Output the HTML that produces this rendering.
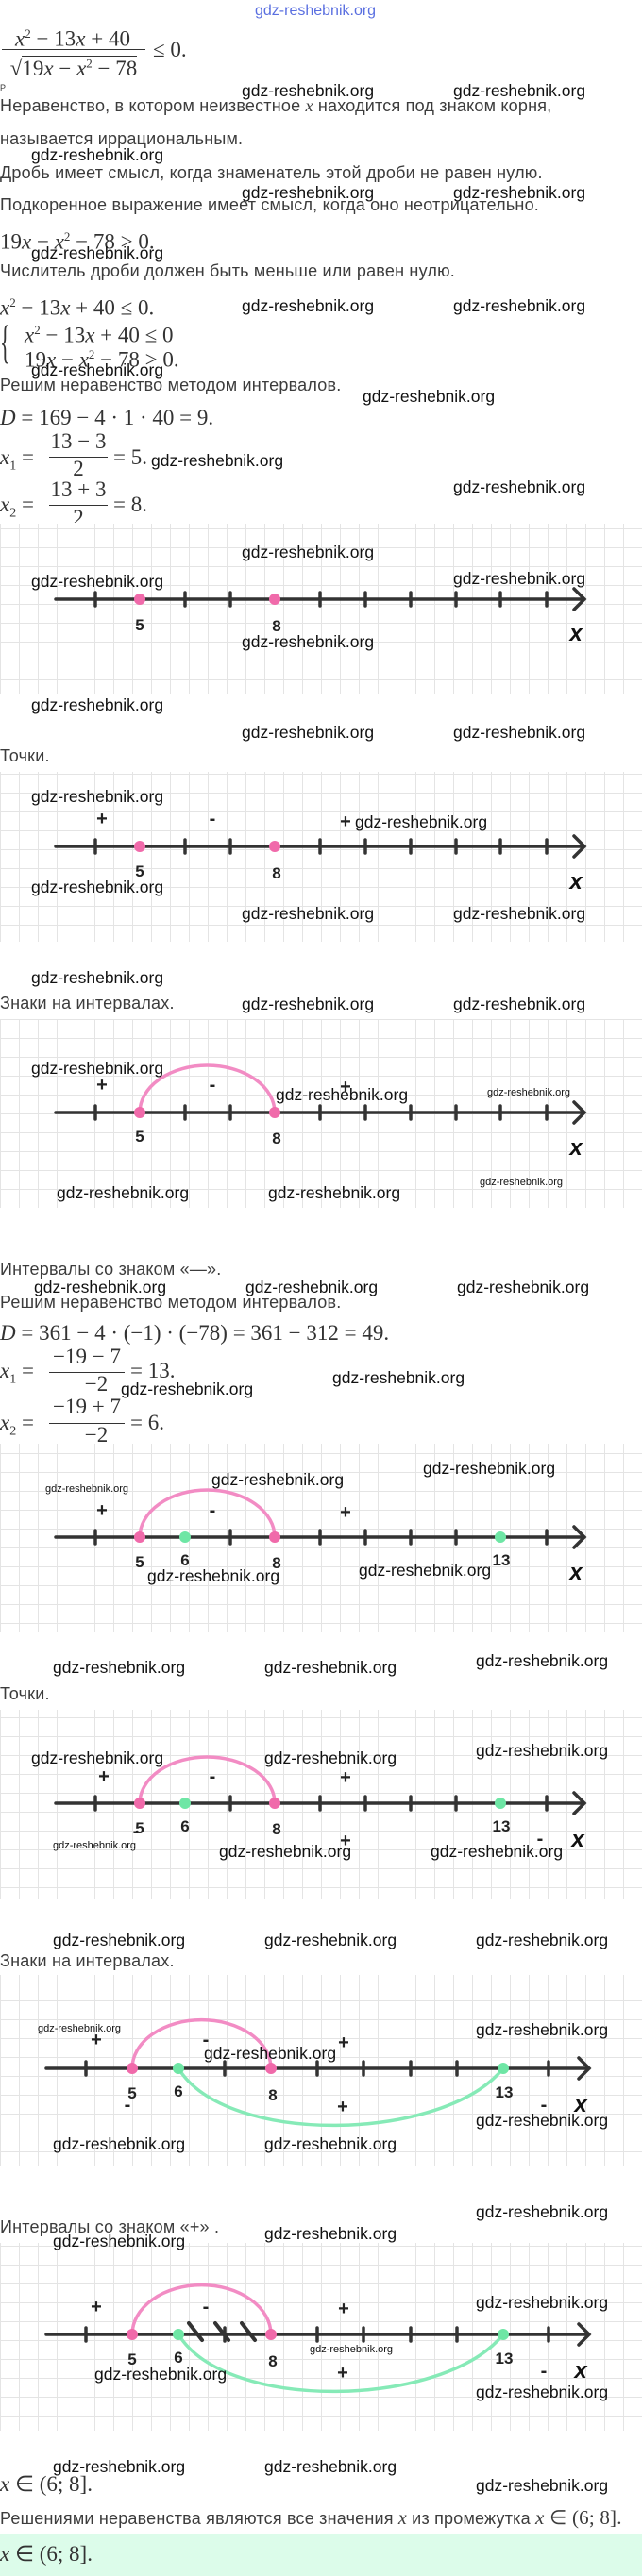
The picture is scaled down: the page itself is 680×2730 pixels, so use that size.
<!DOCTYPE html>
<html><head><meta charset="utf-8">
<style>
*{margin:0;padding:0;box-sizing:border-box}
body{width:680px;height:2730px;position:relative;background:#fff;overflow:hidden;font-family:"Liberation Sans",sans-serif}
.t{position:absolute;left:0;font-size:18px;color:#3c3c3c;white-space:nowrap;line-height:18px;letter-spacing:.2px}
.w{position:absolute;font-size:17.5px;color:#111;white-space:nowrap;line-height:20px;font-family:"Liberation Sans",sans-serif}
.ws{position:absolute;font-size:11px;color:#111;white-space:nowrap;line-height:12px}
.m{position:absolute;font-family:"Liberation Serif",serif;font-size:23px;color:#333;white-space:nowrap;line-height:22px}
.m i{font-style:italic}
.fr{position:absolute;font-family:"Liberation Serif",serif;font-size:23px;color:#333;text-align:center;line-height:22px;white-space:nowrap}
svg{position:absolute;left:0;top:0}
</style></head><body>
<svg width="680" height="2730" viewBox="0 0 680 2730">
<defs>
<pattern id="g" width="20" height="20" patternUnits="userSpaceOnUse"><path d="M0 0.5H20M0.5 0V20" stroke="#e4e4e4" stroke-width="1" fill="none"/></pattern>
</defs>
<rect x="0" y="2686" width="680" height="44" fill="#dcfcea"/>
<rect x="0" y="555" width="680" height="180" fill="url(#g)"/>
<rect x="0" y="818" width="680" height="180" fill="url(#g)"/>
<rect x="0" y="1080" width="680" height="200" fill="url(#g)"/>
<rect x="0" y="1530" width="680" height="200" fill="url(#g)"/>
<rect x="0" y="1812" width="680" height="200" fill="url(#g)"/>
<rect x="0" y="2093" width="680" height="203" fill="url(#g)"/>
<rect x="0" y="2377" width="680" height="199" fill="url(#g)"/>
<g stroke="#333" stroke-width="3.5" fill="none" stroke-linecap="round">
<path d="M59 635H619M608 624L619 635L608 646"/>
<path d="M101 628v14M196 628v14M244 628v14M339 628v14M387 628v14M435 628v14M483 628v14M530 628v14M579 628v14"/>
<path d="M59 897H619M608 886L619 897L608 908"/>
<path d="M101 890v14M196 890v14M244 890v14M339 890v14M387 890v14M435 890v14M483 890v14M530 890v14M579 890v14"/>
<path d="M59 1179H619M608 1168L619 1179L608 1190"/>
<path d="M101 1172v14M196 1172v14M244 1172v14M339 1172v14M387 1172v14M435 1172v14M483 1172v14M530 1172v14M579 1172v14"/>
<path d="M59 1629H619M608 1618L619 1629L608 1640"/>
<path d="M101 1622v14M244 1622v14M339 1622v14M387 1622v14M435 1622v14M483 1622v14M579 1622v14"/>
<path d="M59 1911H619M608 1900L619 1911L608 1922"/>
<path d="M101 1904v14M244 1904v14M339 1904v14M387 1904v14M435 1904v14M483 1904v14M579 1904v14"/>
<path d="M49 2192H624M613 2181L624 2192L613 2203"/>
<path d="M91 2185v14M238 2185v14M336 2185v14M385 2185v14M435 2185v14M484 2185v14M581 2185v14"/>
<path d="M49 2474H624M613 2463L624 2474L613 2485"/>
<path d="M91 2467v14M238 2467v14M336 2467v14M385 2467v14M435 2467v14M484 2467v14M581 2467v14"/>
<path d="M200 2462l14 18M228 2462l14 18M256 2462l14 18" stroke-width="4"/>
</g>
<g fill="none" stroke-width="3.5" stroke-linecap="round">
<path d="M148 1179A71.5 50 0 0 1 291 1179" stroke="#f28cc4"/>
<path d="M148 1629A71.5 50 0 0 1 291 1629" stroke="#f28cc4"/>
<path d="M148 1911A71.5 49 0 0 1 291 1911" stroke="#f28cc4"/>
<path d="M140 2192A73 51 0 0 1 287 2192" stroke="#f28cc4"/>
<path d="M140 2474A73 52 0 0 1 287 2474" stroke="#f28cc4"/>
<path d="M189 2192C240 2275 470 2270 533 2192" stroke="#86eab7"/>
<path d="M189 2474C240 2557 470 2552 533 2474" stroke="#86eab7"/>
</g>
<g fill="#f06aaa">
<circle cx="148" cy="635" r="6"/><circle cx="291" cy="635" r="6"/>
<circle cx="148" cy="897" r="6"/><circle cx="291" cy="897" r="6"/>
<circle cx="148" cy="1179" r="6"/><circle cx="291" cy="1179" r="6"/>
<circle cx="148" cy="1629" r="6"/><circle cx="291" cy="1629" r="6"/>
<circle cx="148" cy="1911" r="6"/><circle cx="291" cy="1911" r="6"/>
<circle cx="140" cy="2192" r="6"/><circle cx="287" cy="2192" r="6"/>
<circle cx="140" cy="2474" r="6"/><circle cx="287" cy="2474" r="6"/>
</g>
<g fill="#6ee6a5">
<circle cx="196" cy="1629" r="6"/><circle cx="530" cy="1629" r="6"/>
<circle cx="196" cy="1911" r="6"/><circle cx="530" cy="1911" r="6"/>
<circle cx="189" cy="2192" r="6"/><circle cx="533" cy="2192" r="6"/>
<circle cx="189" cy="2474" r="6"/><circle cx="533" cy="2474" r="6"/>
</g>
<g font-family="Liberation Sans,sans-serif" font-weight="bold" fill="#222" font-size="17" text-anchor="middle">
<text x="148" y="668">5</text><text x="293" y="669">8</text>
<text x="148" y="929">5</text><text x="293" y="931">8</text>
<text x="148" y="1210">5</text><text x="293" y="1212">8</text>
<text x="148" y="1661">5</text><text x="196" y="1659">6</text><text x="293" y="1662">8</text><text x="531" y="1659">13</text>
<text x="148" y="1943">5</text><text x="196" y="1941">6</text><text x="293" y="1944">8</text><text x="531" y="1941">13</text>
<text x="140" y="2224">5</text><text x="189" y="2222">6</text><text x="289" y="2226">8</text><text x="534" y="2223">13</text>
<text x="140" y="2506">5</text><text x="189" y="2504">6</text><text x="289" y="2508">8</text><text x="534" y="2505">13</text>
</g>
<g font-family="Liberation Sans,sans-serif" font-weight="bold" font-style="italic" fill="#111" font-size="24" text-anchor="middle">
<text x="610" y="679">x</text><text x="610" y="942">x</text><text x="610" y="1224">x</text>
<text x="610" y="1674">x</text><text x="612" y="1957">x</text><text x="615" y="2238">x</text><text x="615" y="2520">x</text>
</g>
<g font-family="Liberation Sans,sans-serif" font-weight="bold" fill="#222" font-size="20" text-anchor="middle">
<text x="108" y="874">+</text><text x="225" y="874">-</text><text x="366" y="877">+</text>
<text x="108" y="1156">+</text><text x="225" y="1156">-</text><text x="366" y="1158">+</text>
<text x="108" y="1607">+</text><text x="225" y="1607">-</text><text x="366" y="1609">+</text>
<text x="110" y="1889">+</text><text x="225" y="1889">-</text><text x="366" y="1890">+</text>
<text x="144" y="1947">-</text><text x="366" y="1957">+</text><text x="572" y="1955">-</text>
<text x="102" y="2168">+</text><text x="218" y="2168">-</text><text x="364" y="2171">+</text>
<text x="135" y="2237">-</text><text x="363" y="2239">+</text><text x="576" y="2237">-</text>
<text x="102" y="2451">+</text><text x="218" y="2451">-</text><text x="364" y="2453">+</text>
<text x="363" y="2521">+</text><text x="576" y="2519">-</text>
</g>
</svg>

<div class="w" style="left:270px;top:2px;color:#5a6fe0;font-size:16px">gdz-reshebnik.org</div>

<div class="fr" style="left:2px;top:25px;width:150px"><i>x</i><sup style="font-size:13px">2</sup> − 13<i>x</i> + 40</div>
<div style="position:absolute;left:2px;top:52px;width:152px;border-top:1.3px solid #333"></div>
<div class="fr" style="left:0px;top:56px;width:156px">√<span style="border-top:1.3px solid #333">19<i>x</i> − <i>x</i><sup style="font-size:13px">2</sup> − 78</span></div>
<div class="m" style="left:162px;top:42px">≤ 0.</div>
<div class="t" style="top:84px;font-size:9px">Р</div>

<div class="w" style="left:256px;top:86px">gdz-reshebnik.org</div><div class="w" style="left:480px;top:86px">gdz-reshebnik.org</div>
<div class="t" style="top:103px">Неравенство, в котором неизвестное <i style="font-family:'Liberation Serif',serif">x</i> находится под знаком корня,</div>
<div class="t" style="top:138px">называется иррациональным.</div>
<div class="w" style="left:33px;top:154px">gdz-reshebnik.org</div>
<div class="t" style="top:174px">Дробь имеет смысл, когда знаменатель этой дроби не равен нулю.</div>
<div class="w" style="left:256px;top:194px">gdz-reshebnik.org</div><div class="w" style="left:480px;top:194px">gdz-reshebnik.org</div>
<div class="t" style="top:208px">Подкоренное выражение имеет смысл, когда оно неотрицательно.</div>
<div class="m" style="left:0;top:240px">19<i>x</i> − <i>x</i><sup style="font-size:13px">2</sup> − 78 &gt; 0.</div>
<div class="w" style="left:33px;top:258px">gdz-reshebnik.org</div>
<div class="t" style="top:278px">Числитель дроби должен быть меньше или равен нулю.</div>
<div class="m" style="left:0;top:310px"><i>x</i><sup style="font-size:13px">2</sup> − 13<i>x</i> + 40 ≤ 0.</div>
<div class="w" style="left:256px;top:314px">gdz-reshebnik.org</div><div class="w" style="left:480px;top:314px">gdz-reshebnik.org</div>
<div class="m" style="left:0;top:335px;font-size:50px;line-height:54px;transform:scaleX(.45);transform-origin:left">{</div>
<div class="m" style="left:26px;top:339px"><i>x</i><sup style="font-size:13px">2</sup> − 13<i>x</i> + 40 ≤ 0</div>
<div class="m" style="left:26px;top:365px">19<i>x</i> − <i>x</i><sup style="font-size:13px">2</sup> − 78 &gt; 0.</div>
<div class="w" style="left:33px;top:382px">gdz-reshebnik.org</div>
<div class="t" style="top:399px">Решим неравенство методом интервалов.</div>
<div class="w" style="left:384px;top:410px">gdz-reshebnik.org</div>
<div class="m" style="left:0;top:432px"><i>D</i> = 169 − 4 · 1 · 40 = 9.</div>
<div class="m" style="left:0;top:474px"><i>x</i><sub style="font-size:14px">1</sub> =</div>
<div class="fr" style="left:52px;top:457px;width:62px">13 − 3</div>
<div style="position:absolute;left:52px;top:484px;width:62px;border-top:1.3px solid #333"></div>
<div class="fr" style="left:52px;top:486px;width:62px">2</div>
<div class="m" style="left:120px;top:474px">= 5.</div>
<div class="w" style="left:160px;top:478px">gdz-reshebnik.org</div>
<div class="w" style="left:480px;top:506px">gdz-reshebnik.org</div>
<div class="m" style="left:0;top:524px"><i>x</i><sub style="font-size:14px">2</sub> =</div>
<div class="fr" style="left:52px;top:508px;width:62px">13 + 3</div>
<div style="position:absolute;left:52px;top:535px;width:62px;border-top:1.3px solid #333"></div>
<div class="fr" style="left:52px;top:538px;width:62px;height:16px;overflow:hidden">2</div>
<div class="m" style="left:120px;top:524px">= 8.</div>

<div class="w" style="left:256px;top:575px">gdz-reshebnik.org</div>
<div class="w" style="left:33px;top:606px">gdz-reshebnik.org</div><div class="w" style="left:480px;top:603px">gdz-reshebnik.org</div>
<div class="w" style="left:256px;top:670px">gdz-reshebnik.org</div>
<div class="w" style="left:33px;top:737px">gdz-reshebnik.org</div>
<div class="w" style="left:256px;top:766px">gdz-reshebnik.org</div><div class="w" style="left:480px;top:766px">gdz-reshebnik.org</div>
<div class="t" style="top:792px">Точки.</div>
<div class="w" style="left:33px;top:834px">gdz-reshebnik.org</div>
<div class="w" style="left:376px;top:861px">gdz-reshebnik.org</div>
<div class="w" style="left:33px;top:930px">gdz-reshebnik.org</div>
<div class="w" style="left:256px;top:958px">gdz-reshebnik.org</div><div class="w" style="left:480px;top:958px">gdz-reshebnik.org</div>
<div class="w" style="left:33px;top:1026px">gdz-reshebnik.org</div>
<div class="t" style="top:1054px">Знаки на интервалах.</div>
<div class="w" style="left:256px;top:1054px">gdz-reshebnik.org</div><div class="w" style="left:480px;top:1054px">gdz-reshebnik.org</div>
<div class="w" style="left:33px;top:1122px">gdz-reshebnik.org</div>
<div class="w" style="left:292px;top:1150px">gdz-reshebnik.org</div>
<div class="ws" style="left:516px;top:1152px">gdz-reshebnik.org</div>
<div class="ws" style="left:508px;top:1247px">gdz-reshebnik.org</div>
<div class="w" style="left:60px;top:1254px">gdz-reshebnik.org</div><div class="w" style="left:284px;top:1254px">gdz-reshebnik.org</div>

<div class="t" style="top:1336px">Интервалы со знаком «—».</div>
<div class="w" style="left:36px;top:1354px">gdz-reshebnik.org</div><div class="w" style="left:260px;top:1354px">gdz-reshebnik.org</div><div class="w" style="left:484px;top:1354px">gdz-reshebnik.org</div>
<div class="t" style="top:1371px">Решим неравенство методом интервалов.</div>
<div class="m" style="left:0;top:1402px"><i>D</i> = 361 − 4 · (−1) · (−78) = 361 − 312 = 49.</div>
<div class="m" style="left:0;top:1442px"><i>x</i><sub style="font-size:14px">1</sub> =</div>
<div class="fr" style="left:52px;top:1427px;width:80px">−19 − 7</div>
<div style="position:absolute;left:52px;top:1454px;width:80px;border-top:1.3px solid #333"></div>
<div class="fr" style="left:62px;top:1456px;width:80px">−2</div>
<div class="m" style="left:138px;top:1442px">= 13.</div>
<div class="w" style="left:128px;top:1462px">gdz-reshebnik.org</div>
<div class="w" style="left:352px;top:1450px">gdz-reshebnik.org</div>
<div class="m" style="left:0;top:1497px"><i>x</i><sub style="font-size:14px">2</sub> =</div>
<div class="fr" style="left:52px;top:1480px;width:80px">−19 + 7</div>
<div style="position:absolute;left:52px;top:1508px;width:80px;border-top:1.3px solid #333"></div>
<div class="fr" style="left:62px;top:1510px;width:80px">−2</div>
<div class="m" style="left:138px;top:1497px">= 6.</div>

<div class="w" style="left:448px;top:1546px">gdz-reshebnik.org</div>
<div class="w" style="left:224px;top:1558px">gdz-reshebnik.org</div>
<div class="ws" style="left:48px;top:1572px">gdz-reshebnik.org</div>
<div class="w" style="left:156px;top:1660px">gdz-reshebnik.org</div>
<div class="w" style="left:380px;top:1654px">gdz-reshebnik.org</div>
<div class="w" style="left:56px;top:1757px">gdz-reshebnik.org</div><div class="w" style="left:280px;top:1757px">gdz-reshebnik.org</div><div class="w" style="left:504px;top:1750px">gdz-reshebnik.org</div>
<div class="t" style="top:1786px">Точки.</div>
<div class="w" style="left:33px;top:1853px">gdz-reshebnik.org</div><div class="w" style="left:280px;top:1853px">gdz-reshebnik.org</div><div class="w" style="left:504px;top:1845px">gdz-reshebnik.org</div>
<div class="ws" style="left:56px;top:1950px">gdz-reshebnik.org</div>
<div class="w" style="left:232px;top:1952px">gdz-reshebnik.org</div><div class="w" style="left:456px;top:1952px">gdz-reshebnik.org</div>

<div class="w" style="left:56px;top:2046px">gdz-reshebnik.org</div><div class="w" style="left:280px;top:2046px">gdz-reshebnik.org</div><div class="w" style="left:504px;top:2046px">gdz-reshebnik.org</div>
<div class="t" style="top:2069px">Знаки на интервалах.</div>
<div class="ws" style="left:40px;top:2144px">gdz-reshebnik.org</div>
<div class="w" style="left:216px;top:2166px">gdz-reshebnik.org</div>
<div class="w" style="left:504px;top:2141px">gdz-reshebnik.org</div>
<div class="w" style="left:504px;top:2237px">gdz-reshebnik.org</div>
<div class="w" style="left:56px;top:2262px">gdz-reshebnik.org</div><div class="w" style="left:280px;top:2262px">gdz-reshebnik.org</div>
<div class="w" style="left:504px;top:2334px">gdz-reshebnik.org</div>
<div class="t" style="top:2351px">Интервалы со знаком «+» .</div>
<div class="w" style="left:280px;top:2357px">gdz-reshebnik.org</div>
<div class="w" style="left:56px;top:2365px">gdz-reshebnik.org</div>
<div class="w" style="left:504px;top:2430px">gdz-reshebnik.org</div>
<div class="ws" style="left:328px;top:2484px">gdz-reshebnik.org</div>
<div class="w" style="left:100px;top:2506px">gdz-reshebnik.org</div>
<div class="w" style="left:504px;top:2525px">gdz-reshebnik.org</div>

<div class="w" style="left:56px;top:2604px">gdz-reshebnik.org</div><div class="w" style="left:280px;top:2604px">gdz-reshebnik.org</div>
<div class="w" style="left:504px;top:2624px">gdz-reshebnik.org</div>
<div class="m" style="left:0;top:2622px"><i>x</i> ∈ (6; 8].</div>
<div class="t" style="top:2659px">Решениями неравенства являются все значения <i style="font-family:'Liberation Serif',serif;font-size:20px">x</i> из промежутка <span style="font-family:'Liberation Serif',serif;font-size:21px"><i>x</i> ∈ (6; 8].</span></div>
<div class="m" style="left:0;top:2696px"><i>x</i> ∈ (6; 8].</div>
</body></html>
